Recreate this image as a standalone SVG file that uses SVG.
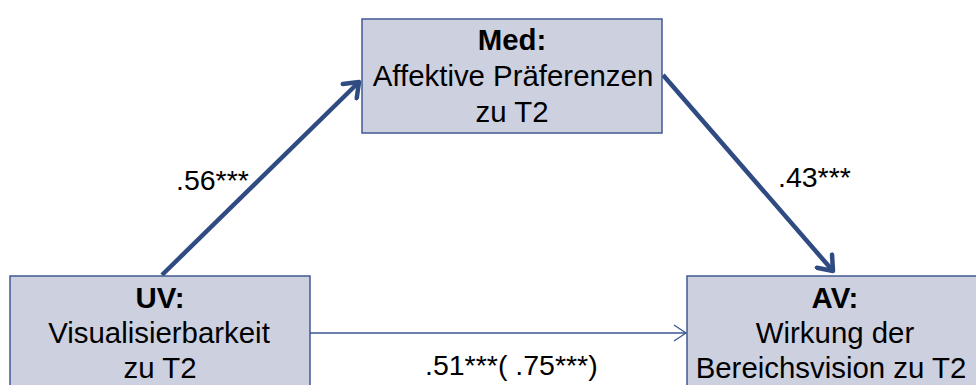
<svg xmlns="http://www.w3.org/2000/svg" width="976" height="385" viewBox="0 0 976 385">
  <style>
    .box { fill: #CDD0DF; stroke: #3F5A92; stroke-width: 1.5; }
    .t { font-family: "Liberation Sans", Arial, sans-serif; font-size: 29.4px; fill: #000; text-anchor: middle; }
    .b { font-weight: bold; }
    .lbl { font-family: "Liberation Sans", Arial, sans-serif; font-size: 28.5px; fill: #000; }
    .thick { stroke: #2F4B82; stroke-width: 4.5; fill: none; }
    .thin { stroke: #3A5690; stroke-width: 1.3; fill: none; }
  </style>
  <defs>
    <marker id="headThick" markerUnits="userSpaceOnUse" viewBox="-16 -12 20 24" refX="0" refY="0" markerWidth="20" markerHeight="24" orient="auto">
      <path d="M-13,-10 L0,0 L-13,10" fill="none" stroke="#2F4B82" stroke-width="4.5" stroke-linecap="round" stroke-linejoin="round"/>
    </marker>
    <marker id="headThin" markerUnits="userSpaceOnUse" viewBox="-14 -10 16 20" refX="0" refY="0" markerWidth="16" markerHeight="20" orient="auto">
      <path d="M-12,-8 L0,0 L-12,8" fill="none" stroke="#3A5690" stroke-width="1.3"/>
    </marker>
  </defs>

  <g id="connectors">
    <line class="thick" x1="162" y1="275" x2="359" y2="82" marker-end="url(#headThick)"/>
    <line class="thick" x1="663" y1="75" x2="833" y2="271" marker-end="url(#headThick)"/>
    <line class="thin" x1="310" y1="333" x2="686" y2="333" marker-end="url(#headThin)"/>
    <text class="lbl" x="176" y="190">.56***</text>
    <text class="lbl" x="778" y="187">.43***</text>
    <text class="lbl" x="425" y="375">.51***( .75***)</text>
  </g>

  <g id="med">
    <rect class="box" x="362" y="19" width="300" height="114"/>
    <text class="t b" x="512" y="50">Med:</text>
    <text class="t" x="513" y="86">Affektive Präferenzen</text>
    <text class="t" x="512" y="122">zu T2</text>
  </g>

  <g id="uv">
    <rect class="box" x="10" y="276" width="300" height="120"/>
    <text class="t b" x="160" y="308">UV:</text>
    <text class="t" x="159" y="343">Visualisierbarkeit</text>
    <text class="t" x="160" y="378">zu T2</text>
  </g>

  <g id="av">
    <rect class="box" x="687" y="276" width="300" height="120"/>
    <text class="t b" x="835" y="308">AV:</text>
    <text class="t" x="835" y="343">Wirkung der</text>
    <text class="t" x="831" y="378">Bereichsvision zu T2</text>
  </g>
</svg>
